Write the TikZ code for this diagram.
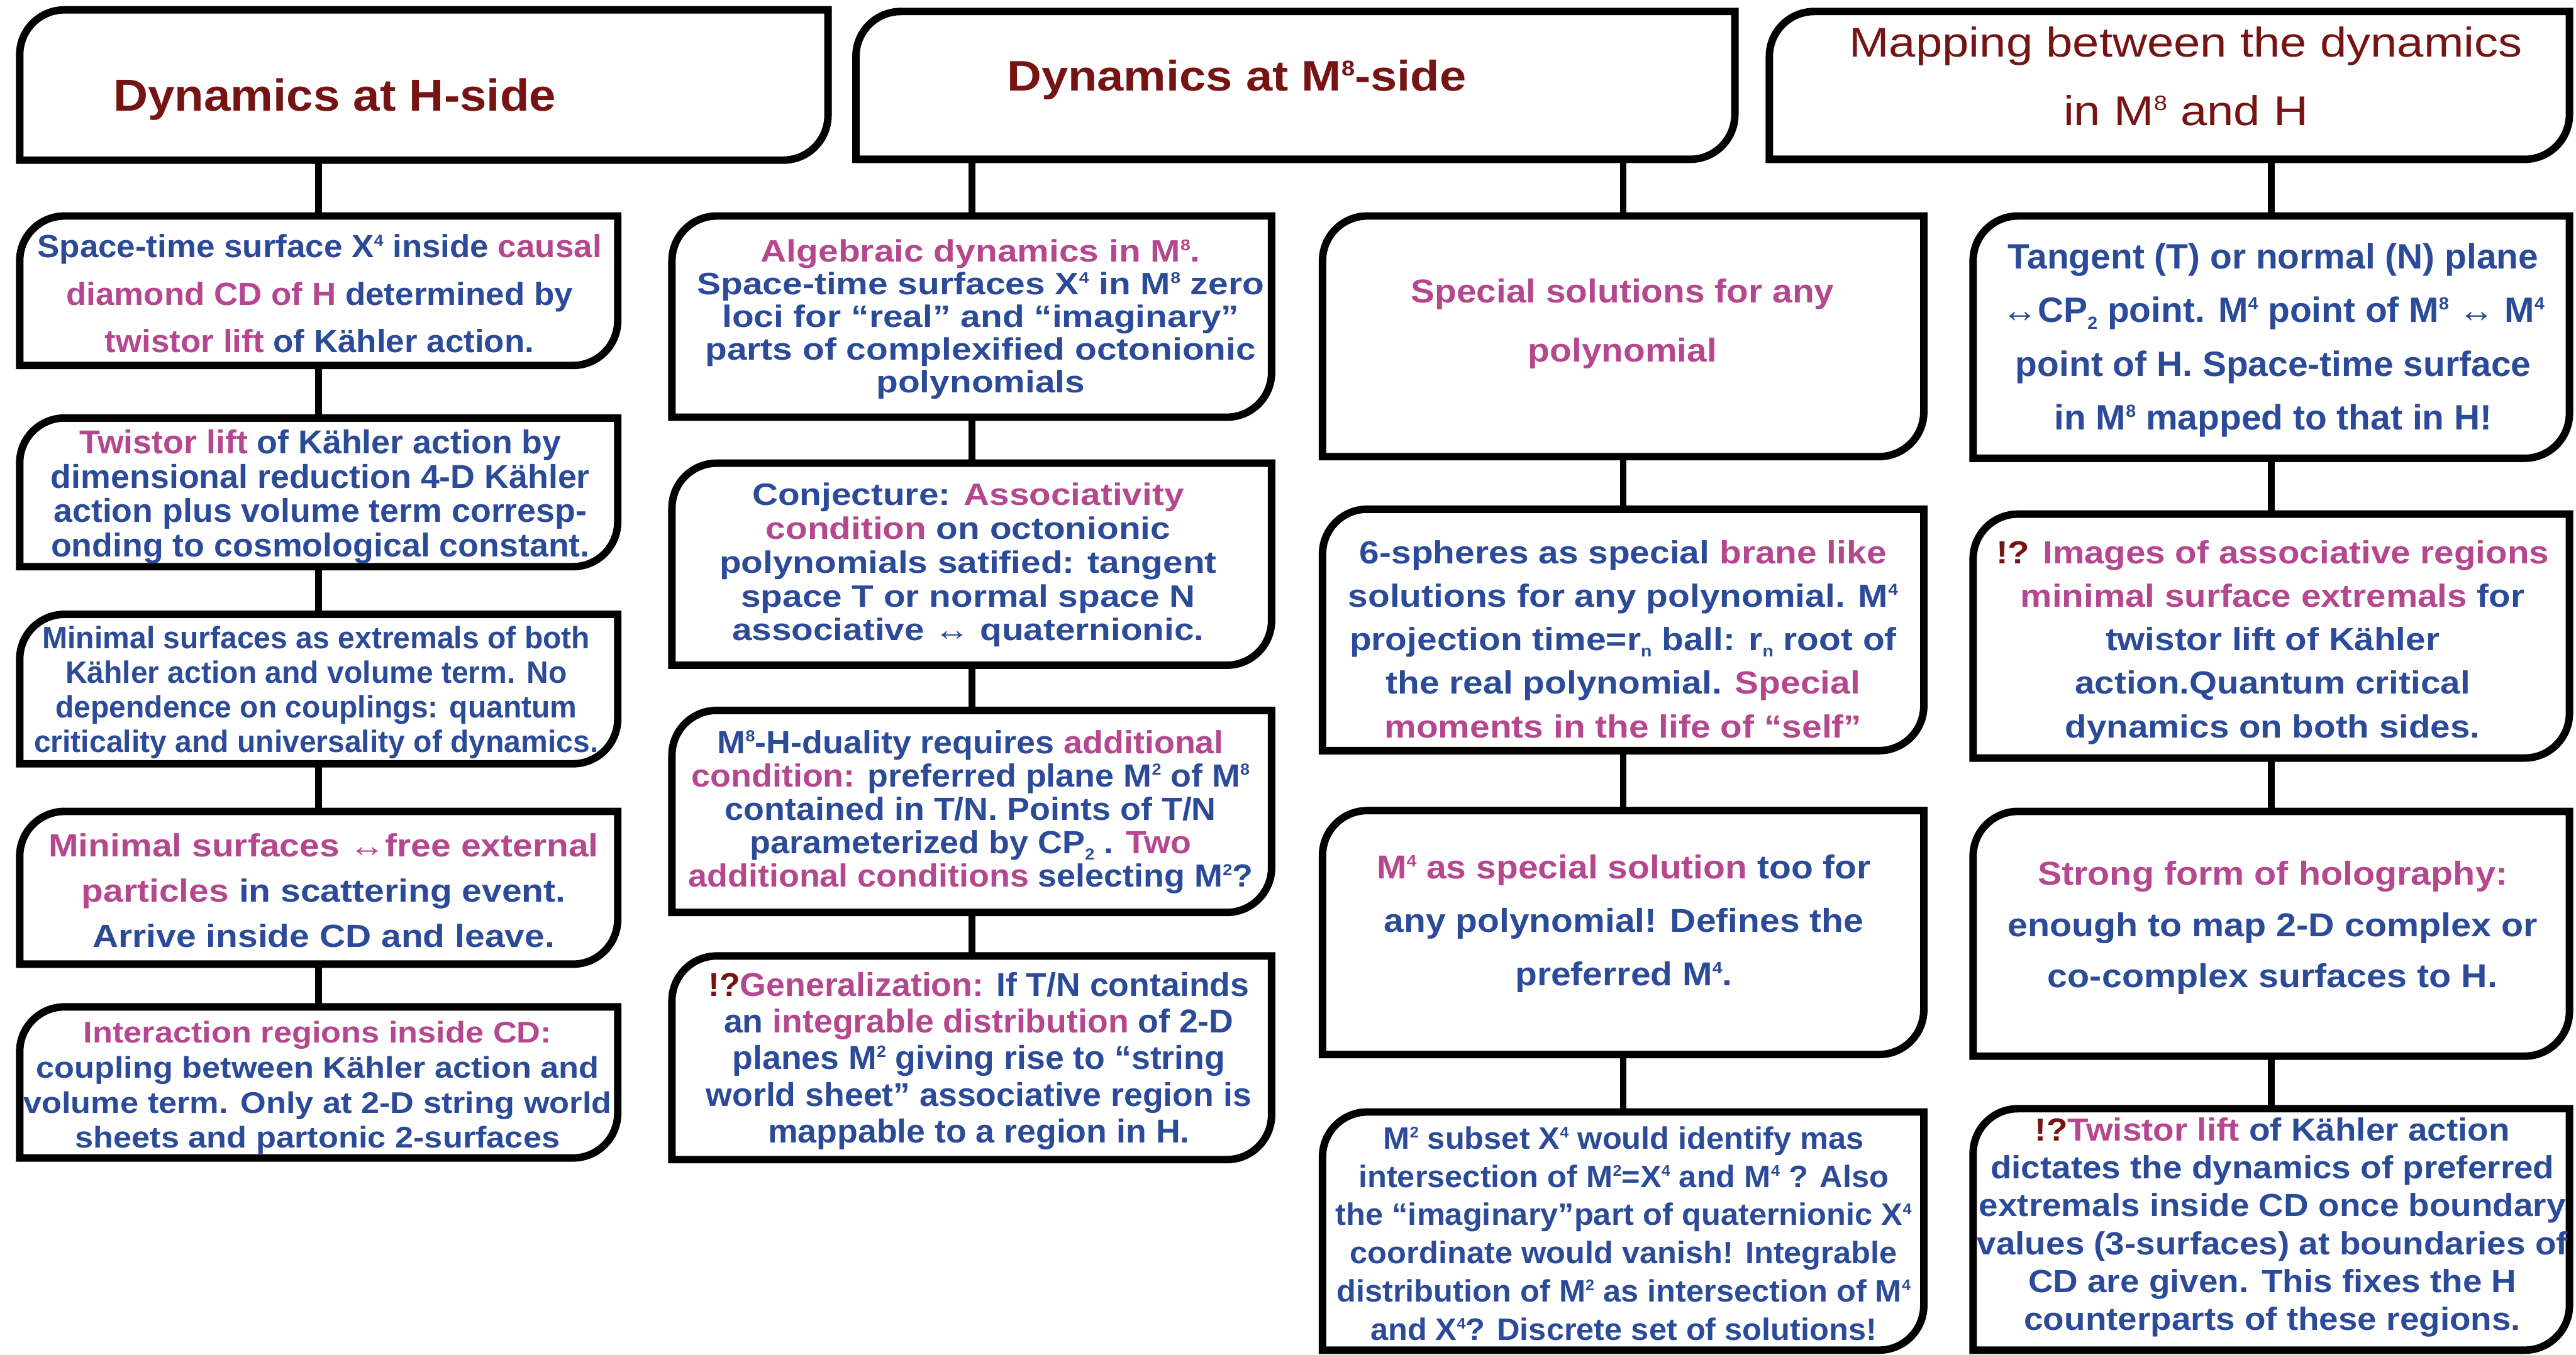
\documentclass[tikz,border=0pt]{standalone}
\usepackage{fontspec}
\setmainfont{Liberation Sans}
\usepackage{graphicx}
\usetikzlibrary{fit}

\definecolor{inkblue}{HTML}{2B4A98}
\definecolor{inkpink}{HTML}{B5478F}
\definecolor{inkred}{HTML}{761414}

% one drawing unit in pt
\newdimen\un \un=0.76935pt

\newcommand\sups[1]{\smash{\raisebox{0.36em}{\scalebox{0.5}{#1}}}}
\newcommand\subs[1]{\smash{\raisebox{-0.2em}{\scalebox{0.5}{#1}}}}
\newcommand\pk[1]{\textcolor{inkpink}{#1}}
\newcommand\rd[1]{\textcolor{inkred}{#1}}
% #1 size, #2 fixed line pitch (pt), #3 width of the widest line (units), #4 lines
\newcommand\cardtext[4]{\fontsize{#1pt}{#2pt}\selectfont\resizebox{#3\un}{\height}{\vtop{\lineskiplimit=-\maxdimen\def\\{\cr}\halign{\hfil##\hfil\cr #4\cr}}}}
% outline with rounded top-left and bottom-right corners
\newcommand\cardframe[1]{\draw[frame] (#1.south west) -- ([yshift=-21pt]#1.north west) arc[start angle=180, end angle=90, radius=21pt] -- (#1.north east) -- ([yshift=21pt]#1.south east) arc[start angle=0, end angle=-90, radius=21pt] -- cycle;}

\begin{document}
\begin{tikzpicture}[x=0.027041cm, y=0.027041cm,
  cardbox/.style={inner sep=0pt, outer sep=0pt},
  label/.style={anchor=base, inner sep=0pt, outer sep=0pt, text=inkblue, font=\bfseries},
  headlabel/.style={anchor=base, inner sep=0pt, outer sep=0pt, text=inkred},
  frame/.style={line width=3.5pt, line join=miter},
  link/.style={line width=3.2pt}]

\fill[white] (0,0) rectangle (1568,-824.7);
\useasboundingbox (0,0) rectangle (1568,-824.7);

% ---------- boxes ----------
\node[cardbox, fit={(12,-6) (504,-97.5)}] (h1) {};
\node[cardbox, fit={(521,-7) (1056,-97)}] (h2) {};
\node[cardbox, fit={(1077,-7) (1564,-97)}] (h3) {};

\node[cardbox, fit={(12,-131.5) (376,-222.5)}] (b1) {};
\node[cardbox, fit={(12,-254.5) (376,-345)}] (b2) {};
\node[cardbox, fit={(12,-374) (376,-465)}] (b3) {};
\node[cardbox, fit={(12,-494) (376,-587)}] (b4) {};
\node[cardbox, fit={(12,-613) (376,-705)}] (b5) {};

\node[cardbox, fit={(409,-131.5) (774,-254)}] (c1) {};
\node[cardbox, fit={(409,-282) (774,-405)}] (c2) {};
\node[cardbox, fit={(409,-432.5) (774,-555.5)}] (c3) {};
\node[cardbox, fit={(409,-582) (774,-706)}] (c4) {};

\node[cardbox, fit={(805,-131.5) (1171,-278)}] (d1) {};
\node[cardbox, fit={(805,-310) (1171,-457)}] (d2) {};
\node[cardbox, fit={(805,-493.5) (1171,-642)}] (d3) {};
\node[cardbox, fit={(805,-677) (1171,-822)}] (d4) {};

\node[cardbox, fit={(1201,-131.5) (1564,-279)}] (e1) {};
\node[cardbox, fit={(1201,-313) (1564,-461.5)}] (e2) {};
\node[cardbox, fit={(1201,-494) (1564,-643)}] (e3) {};
\node[cardbox, fit={(1201,-675) (1564,-822)}] (e4) {};

% ---------- connectors ----------
\draw[link] (h1.south -| b1.north) -- (b1.north);
\draw[link] (b1.south) -- (b2.north);
\draw[link] (b2.south) -- (b3.north);
\draw[link] (b3.south) -- (b4.north);
\draw[link] (b4.south) -- (b5.north);

\draw[link] (h2.south -| c1.north) -- (c1.north);
\draw[link] (c1.south) -- (c2.north);
\draw[link] (c2.south) -- (c3.north);
\draw[link] (c3.south) -- (c4.north);

\draw[link] (h2.south -| d1.north) -- (d1.north);
\draw[link] (d1.south) -- (d2.north);
\draw[link] (d2.south) -- (d3.north);
\draw[link] (d3.south) -- (d4.north);

\draw[link] (h3.south -| e1.north) -- (e1.north);
\draw[link] (e1.south) -- (e2.north);
\draw[link] (e2.south) -- (e3.north);
\draw[link] (e3.south) -- (e4.north);

\foreach \n in {h1,h2,h3,b1,b2,b3,b4,b5,c1,c2,c3,c4,d1,d2,d3,d4,e1,e2,e3,e4}{\cardframe{\n}}

% ---------- headings ----------
\node[headlabel, font=\bfseries] (h1t) at (203.75,-67.7)
  {\cardtext{21}{24}{269.5}{Dynamics at H-side}};
\node[headlabel, font=\bfseries] (h2t) at (752.75,-55.3)
  {\cardtext{20}{24}{279.5}{Dynamics at M\sups{8}-side}};
\node[headlabel, font=\mdseries] (h3t) at (1330.5,-34.7)
  {\cardtext{19.5}{32}{409.7}{Mapping between the dynamics\\ in M\sups{8} and H}};

% ---------- H-side column ----------
\node[label] (b1t) at (194.5,-156.8)
  {\cardtext{15}{22.2}{343.5}{Space-time surface X\sups{4} inside \pk{causal}\\ \pk{diamond CD of H} determined by\\ \pk{twistor lift} of Kähler action.}};
\node[label] (b2t) at (195,-276.2)
  {\cardtext{15.5}{16.1}{328}{\pk{Twistor lift} of Kähler action by\\ dimensional reduction 4-D Kähler\\ action plus volume term corresp-\\ onding to cosmological constant.}};
\node[label] (b3t) at (192.5,-395)
  {\cardtext{14.5}{16.2}{343.5}{Minimal surfaces as extremals of both\\ Kähler action and volume term. No\\ dependence on couplings: quantum\\ criticality and universality of dynamics.}};
\node[label] (b4t) at (197,-521.7)
  {\cardtext{15}{21.1}{334.7}{\pk{Minimal surfaces ↔free external}\\ \pk{particles} in scattering event.\\ Arrive inside CD and leave.}};
\node[label] (b5t) at (193.3,-635)
  {\cardtext{14}{16.4}{358}{\pk{Interaction regions inside CD:}\\ coupling between Kähler action and\\ volume term. Only at 2-D string world\\ sheets and partonic 2-surfaces}};

% ---------- M8-side, algebraic column ----------
\node[label] (c1t) at (596.9,-159.5)
  {\cardtext{14.5}{15.3}{345}{\pk{Algebraic dynamics in M\sups{8}.}\\ Space-time surfaces X\sups{4} in M\sups{8} zero\\ loci for “real” and “imaginary”\\ parts of complexified octonionic\\ polynomials}};
\node[label] (c2t) at (589.3,-307.6)
  {\cardtext{14.5}{15.85}{302.6}{Conjecture: \pk{Associativity}\\ \pk{condition} on octonionic\\ polynomials satified: tangent\\ space T or normal space N\\ associative ↔ quaternionic.}};
\node[label] (c3t) at (590.8,-458.6)
  {\cardtext{15}{15.66}{343.6}{M\sups{8}-H-duality requires \pk{additional}\\ \pk{condition:} preferred plane M\sups{2} of M\sups{8}\\ contained in T/N. Points of T/N\\ parameterized by CP\subs{2} . \pk{Two}\\ \pk{additional conditions} selecting M\sups{2}?}};
\node[label] (c4t) at (595.8,-606.4)
  {\cardtext{15.5}{17.2}{332}{\rd{!?}\pk{Generalization:} If T/N containds\\ an \pk{integrable distribution} of 2-D\\ planes M\sups{2} giving rise to “string\\ world sheet” associative region is\\ mappable to a region in H.}};

% ---------- M8-side, special solutions column ----------
\node[label, text=inkpink] (d1t) at (987.6,-184.5)
  {\cardtext{15.5}{27.4}{257.6}{Special solutions for any\\ polynomial}};
\node[label] (d2t) at (988,-343)
  {\cardtext{15}{20.4}{334.7}{6-spheres as special \pk{brane like}\\ solutions for any polynomial. M\sups{4}\\ projection time=r\subs{n} ball: r\subs{n} root of\\ the real polynomial. \pk{Special}\\ \pk{moments in the life of “self”}}};
\node[label] (d3t) at (988.4,-535)
  {\cardtext{15.5}{25}{300.8}{\pk{M\sups{4} as special solution} too for\\ any polynomial! Defines the\\ preferred M\sups{4}.}};
\node[label] (d4t) at (988.3,-699.5)
  {\cardtext{14.5}{17.9}{350.5}{M\sups{2} subset X\sups{4} would identify mas\\ intersection of M\sups{2}=X\sups{4} and M\sups{4} ? Also\\ the “imaginary”part of quaternionic X\sups{4}\\ coordinate would vanish! Integrable\\ distribution of M\sups{2} as intersection of M\sups{4}\\ and X\sups{4}? Discrete set of solutions!}};

% ---------- mapping column ----------
\node[label] (e1t) at (1383.7,-163.5)
  {\cardtext{16.5}{25.2}{330.2}{Tangent (T) or normal (N) plane\\ ↔CP\subs{2} point. M\sups{4} point of M\sups{8} ↔ M\sups{4}\\ point of H. Space-time surface\\ in M\sups{8} mapped to that in H!}};
\node[label] (e2t) at (1383.3,-343)
  {\cardtext{15}{20.4}{336.5}{\rd{!?} \pk{Images of associative regions}\\ \pk{minimal surface extremals} for\\ twistor lift of Kähler\\ action.Quantum critical\\ dynamics on both sides.}};
\node[label] (e3t) at (1383.3,-538.8)
  {\cardtext{15.5}{24}{322.7}{\pk{Strong form of holography:}\\ enough to map 2-D complex or\\ co-complex surfaces to H.}};
\node[label] (e4t) at (1383.2,-694.7)
  {\cardtext{15}{17.7}{359.5}{\rd{!?}\pk{Twistor lift} of Kähler action\\ dictates the dynamics of preferred\\ extremals inside CD once boundary\\ values (3-surfaces) at boundaries of\\ CD are given. This fixes the H\\ counterparts of these regions.}};

\end{tikzpicture}
\end{document}
